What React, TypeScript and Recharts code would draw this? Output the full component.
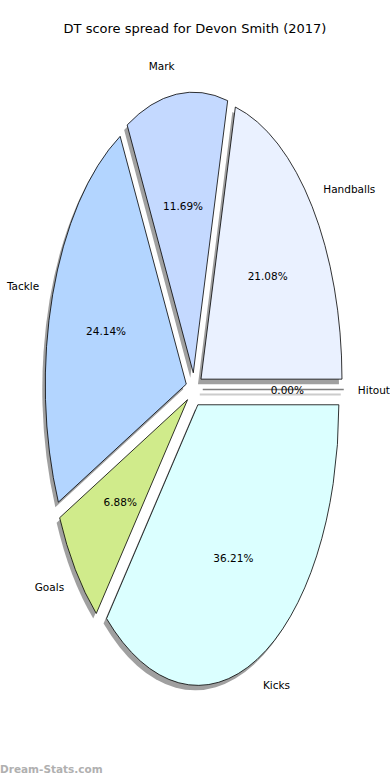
import { Pie, PieChart } from "recharts";

const labels = ["Handballs", "Mark", "Tackle", "Goals", "Kicks", "Hitout"];
const values = [21.08, 11.69, 24.14, 6.88, 36.21, 0];
const colors = ["#eaf1ff", "#c4d9ff", "#b3d5ff", "#d0eb8b", "#dbffff", "#ffe4c4"];

const data = labels.map((name, i) => ({ name, value: values[i], fill: colors[i] }));

const ASPECT = 1.99; // axes aren't equal, so the pie is an ellipse
const EXPLODE = 0.06;
const SHADOW_DX = -3;
const SHADOW_DY = 5;
const RAD = Math.PI / 180;
const FONT = "'DejaVu Sans', sans-serif";

function explodedCenter(cx: number, cy: number, r: number, mid: number) {
  return {
    x: cx + EXPLODE * r * Math.cos(mid * RAD),
    y: cy - EXPLODE * r * ASPECT * Math.sin(mid * RAD),
  };
}

function wedgePath(props: any, dx = 0, dy = 0) {
  const { cx, cy, outerRadius, startAngle, endAngle, midAngle } = props;
  const c = explodedCenter(cx, cy, outerRadius, midAngle);
  const ox = c.x + dx;
  const oy = c.y + dy;
  const rx = outerRadius;
  const ry = outerRadius * ASPECT;
  const x0 = ox + rx * Math.cos(startAngle * RAD);
  const y0 = oy - ry * Math.sin(startAngle * RAD);
  const x1 = ox + rx * Math.cos(endAngle * RAD);
  const y1 = oy - ry * Math.sin(endAngle * RAD);
  if (Math.abs(endAngle - startAngle) < 1e-6) {
    return `M${ox},${oy}L${x0},${y0}Z`;
  }
  const large = Math.abs(endAngle - startAngle) > 180 ? 1 : 0;
  return `M${ox},${oy}L${x0},${y0}A${rx},${ry} 0 ${large} 0 ${x1},${y1}Z`;
}

function ShadowShape(props: any) {
  const zero = Math.abs(props.endAngle - props.startAngle) < 1e-6;
  return (
    <path
      d={wedgePath(props, SHADOW_DX, SHADOW_DY)}
      fill="#a0a0a0"
      stroke={zero ? "#cccccc" : "none"}
      strokeWidth={zero ? 2 : 0}
    />
  );
}

function WedgeShape(props: any) {
  const zero = Math.abs(props.endAngle - props.startAngle) < 1e-6;
  return (
    <path
      d={wedgePath(props)}
      fill={props.fill}
      stroke={zero ? "#808080" : "#000"}
      strokeWidth={zero ? 1.5 : 0.8}
    />
  );
}

function renderLabel(props: any) {
  const { cx, cy, outerRadius, midAngle, name, percent } = props;
  const c = explodedCenter(cx, cy, outerRadius, midAngle);
  const cos = Math.cos(midAngle * RAD);
  const sin = Math.sin(midAngle * RAD);
  const lx = c.x + 1.1 * outerRadius * cos;
  const ly = c.y - 1.1 * outerRadius * ASPECT * sin;
  const px = c.x + 0.6 * outerRadius * cos;
  const py = c.y - 0.6 * outerRadius * ASPECT * sin;
  return (
    <g>
      <text
        x={lx}
        y={ly}
        textAnchor={cos >= 0 ? "start" : "end"}
        dominantBaseline="central"
        fontFamily={FONT}
        fontSize={10.5}
        fill="#000"
      >
        {name}
      </text>
      <text
        x={px}
        y={py}
        textAnchor="middle"
        dominantBaseline="central"
        fontFamily={FONT}
        fontSize={10.5}
        fill="#000"
      >
        {`${(percent * 100).toFixed(2)}%`}
      </text>
    </g>
  );
}

export default function App() {
  return (
    <div style={{ position: "absolute", left: 0, top: 0, width: 390, height: 780, background: "#fff" }}>
      <div
        style={{
          position: "absolute",
          top: 21,
          left: 0,
          width: 390,
          textAlign: "center",
          fontFamily: FONT,
          fontSize: 13,
          color: "#000",
        }}
      >
        DT score spread for Devon Smith (2017)
      </div>
      <PieChart width={390} height={780} margin={{ top: 0, right: 0, bottom: 0, left: 0 }}>
        <Pie
          data={data}
          dataKey="value"
          nameKey="name"
          cx={194.3}
          cy={389.5}
          outerRadius={141}
          startAngle={0}
          endAngle={360}
          shape={ShadowShape}
          label={false}
          labelLine={false}
          isAnimationActive={false}
        />
        <Pie
          data={data}
          dataKey="value"
          nameKey="name"
          cx={194.3}
          cy={389.5}
          outerRadius={141}
          startAngle={0}
          endAngle={360}
          shape={WedgeShape}
          label={renderLabel}
          labelLine={false}
          isAnimationActive={false}
        />
      </PieChart>
      <div
        style={{
          position: "absolute",
          top: 763,
          left: 0,
          fontFamily: FONT,
          fontSize: 10.5,
          fontWeight: "bold",
          color: "#b0b0b0",
        }}
      >
        Dream-Stats.com
      </div>
    </div>
  );
}
